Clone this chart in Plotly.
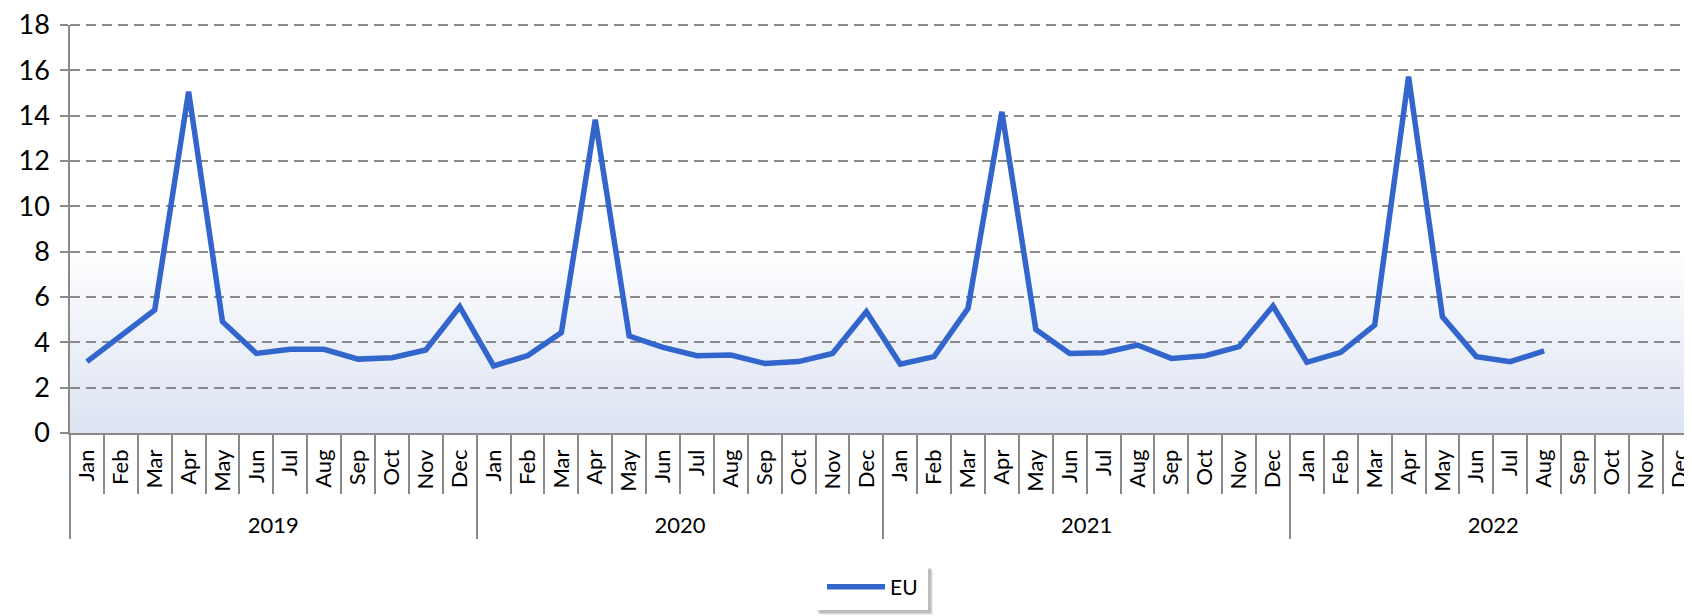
import base64
import plotly.graph_objects as go

years = ["2019", "2020", "2021", "2022"]
months = ["Jan", "Feb", "Mar", "Apr", "May", "Jun", "Jul", "Aug", "Sep", "Oct", "Nov", "Dec"]
eu_2019 = [3.15, 4.32, 5.43, 15.06, 4.91, 3.51, 3.69, 3.69, 3.26, 3.32, 3.66, 5.57]
eu_2020 = [2.96, 3.41, 4.43, 13.82, 4.28, 3.78, 3.41, 3.44, 3.07, 3.15, 3.51, 5.35]
eu_2021 = [3.04, 3.37, 5.50, 14.17, 4.57, 3.51, 3.54, 3.88, 3.29, 3.41, 3.81, 5.60]
eu_2022 = [3.12, 3.56, 4.76, 15.72, 5.13, 3.37, 3.15, 3.62, None, None, None, None]
series_name = "EU"

values = eu_2019 + eu_2020 + eu_2021 + eu_2022
x_cats = [f"{m} {y}" for y in years for m in months]
x_month_text = [m for _ in years for m in months]
n = len(x_cats)
nm = len(months)
year_centers = [i * nm + (nm - 1) / 2 for i in range(len(years))]
year_bounds = [i * nm - 0.5 for i in range(len(years) + 1)]

FONT = "Lato"
GRID = "#8a8a8a"
LINE = "#3366CC"
DASH = "10px,6px"

fig = go.Figure()
fig.add_trace(go.Scatter(
    x=x_cats, y=values, name=series_name, mode="lines",
    line=dict(color=LINE, width=5.5), connectgaps=False,
))
# empty helper traces so the year-label axis and year-divider axis are drawn
for ax in ["x2", "x3"]:
    fig.add_trace(go.Scatter(x=[], y=[], xaxis=ax, yaxis="y", showlegend=False,
                             hoverinfo="skip", mode="lines"))

svg = ('<svg xmlns="http://www.w3.org/2000/svg" width="100" height="100" viewBox="0 0 100 100" '
       'preserveAspectRatio="none"><defs><linearGradient id="g" x1="0" y1="0" x2="0" y2="1">'
       '<stop offset="0" stop-color="#ffffff"/><stop offset="1" stop-color="#dce3f2"/>'
       '</linearGradient></defs><rect width="100" height="100" fill="url(#g)"/></svg>')
src = "data:image/svg+xml;base64," + base64.b64encode(svg.encode()).decode()

fig.add_layout_image(dict(source=src, xref="paper", yref="y", x=0, y=8.3, sizex=1, sizey=8.3,
                          sizing="stretch", layer="below", xanchor="left", yanchor="top"))

# top dashed gridline (at the range edge)
fig.add_shape(type="line", xref="paper", yref="paper", x0=0, x1=1, y0=1, y1=1,
              line=dict(color=GRID, width=2, dash=DASH))

# the page body adds an 8px offset; plot area spans window x 70..1700, y 25..433
PX0, PY0 = 70, 433
PW, PH = 1630, 408
lx0, lx1 = (815 - PX0) / PW, (928 - PX0) / PW
ly0, ly1 = (PY0 - 565) / PH, (PY0 - 610) / PH
for off, op in [(5, 0.10), (4, 0.15), (3, 0.2)]:
    dx = off / PW
    dy = off / PH
    fig.add_shape(type="rect", xref="paper", yref="paper", x0=lx0 + dx, x1=lx1 + dx,
                  y0=ly0 - dy, y1=ly1 - dy, line=dict(width=0), fillcolor="#555555", opacity=op)
fig.add_shape(type="rect", xref="paper", yref="paper", x0=lx0, x1=lx1, y0=ly0, y1=ly1,
              line=dict(width=0), fillcolor="white")

xr = [-0.5, n - 0.4]
fig.update_layout(
    width=1692, height=616,
    margin=dict(l=62, r=0, t=17, b=191),
    paper_bgcolor="white", plot_bgcolor="rgba(0,0,0,0)",
    font=dict(family=FONT, color="black"),
    showlegend=True,
    legend=dict(orientation="h", x=(822 - PX0) / PW, xanchor="left",
                y=(PY0 - 587) / PH, yanchor="middle", itemwidth=58,
                bgcolor="rgba(0,0,0,0)", font=dict(size=21, family=FONT)),
    xaxis=dict(type="category", range=xr, tickson="boundaries",
               tickmode="array", tickvals=x_cats, ticktext=x_month_text,
               automargin=False,
               ticks="outside", ticklen=59, tickcolor=GRID, tickwidth=1.5,
               tickangle=-90, tickfont=dict(size=22, family=FONT), ticklabelstandoff=6,
               showline=True, linecolor=GRID, linewidth=1.5, showgrid=False),
    xaxis2=dict(type="linear", overlaying="x", anchor="y", side="bottom", range=xr,
                tickmode="array", tickvals=year_centers, ticktext=years,
                ticks="", showline=False, showgrid=False, zeroline=False,
                automargin=False, tickfont=dict(size=22, family=FONT),
                ticklabelstandoff=77),
    xaxis3=dict(type="linear", overlaying="x", anchor="y", side="bottom", range=xr,
                tickmode="array", tickvals=year_bounds, showticklabels=False,
                ticks="outside", ticklen=105, tickcolor=GRID, tickwidth=1.5,
                showline=False, showgrid=False, zeroline=False, automargin=False),
    yaxis=dict(range=[0, 18], dtick=2, showgrid=True, gridcolor=GRID, gridwidth=2,
               automargin=False, ticklabelstandoff=5, ticklabeloverflow="allow",
               griddash=DASH, ticks="outside", ticklen=8, tickcolor=GRID, tickwidth=1.5,
               showline=True, linecolor=GRID, linewidth=1.5, zeroline=False,
               tickfont=dict(size=27, family=FONT)),
)

fig.write_html("out.html")
